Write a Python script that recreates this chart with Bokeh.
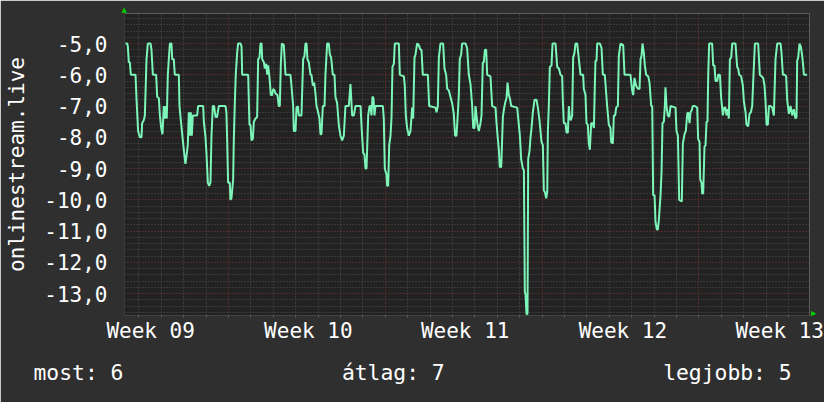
from bokeh.plotting import figure
from bokeh.models import (Range1d, FixedTicker, Grid, CustomJSTickFormatter, Title)
from bokeh.embed import file_html
from bokeh.resources import INLINE

# ---- data (time in hours from graph start, latency value) ----
t_hours = [
    1.1, 2.9, 3.6, 4.6, 5.7, 6.8, 11.8, 12.9, 14.6, 16.4,
    18.2, 18.9, 20.7, 21.8, 23.6, 25.0, 27.9, 28.9, 30.4, 33.9,
    35.0, 36.8, 37.9, 39.3, 40.7, 42.1, 43.2, 44.3, 45.3, 46.4,
    48.6, 50.3, 51.1, 52.8, 53.9, 58.2, 58.9, 60.0, 61.0, 62.5,
    64.3, 65.3, 66.4, 67.8, 68.9, 70.0, 71.0, 72.1, 73.2, 77.8,
    78.9, 84.3, 85.0, 86.8, 87.8, 89.3, 90.7, 92.1, 93.2, 94.6,
    96.0, 97.5, 99.2, 101.0, 108.2, 109.2, 110.0, 111.0, 112.8, 113.5,
    114.6, 116.4, 117.1, 118.2, 119.2, 120.7, 121.7, 124.3, 125.4, 126.1,
    132.5, 133.2, 133.9, 135.0, 136.1, 137.5, 138.6, 140.4, 142.1, 143.2,
    144.6, 145.7, 146.8, 147.5, 149.3, 150.4, 151.8, 152.9, 153.9, 155.4,
    156.8, 158.2, 159.3, 160.7, 161.8, 163.9, 165.3, 166.4, 167.5, 168.6,
    170.7, 172.5, 177.8, 178.9, 180.7, 181.4, 183.2, 184.3, 185.7, 186.8,
    189.6, 191.4, 192.8, 193.9, 195.0, 196.0, 197.5, 199.3, 200.3, 201.8,
    203.2, 204.6, 205.7, 207.1, 208.9, 210.0, 211.0, 212.5, 214.3, 215.3,
    217.1, 218.9, 220.0, 221.4, 223.2, 225.0, 226.0, 227.8, 229.6, 231.4,
    233.2, 235.0, 236.7, 240.3, 242.1, 243.9, 245.7, 247.5, 252.9, 253.9,
    255.7, 257.1, 258.2, 259.3, 260.0, 261.1, 262.5, 263.6, 264.6, 265.7,
    266.8, 267.8, 268.9, 276.8, 277.8, 278.9, 280.7, 281.4, 282.5, 283.6,
    285.0, 286.1, 287.1, 288.6, 289.6, 293.9, 295.0, 299.3, 300.3, 301.4,
    302.8, 304.6, 306.4, 308.2, 309.3, 310.7, 311.8, 313.5, 315.3, 317.1,
    318.2, 319.6, 325.0, 326.4, 333.2, 334.3, 335.7, 336.8, 338.5, 341.4,
    342.8, 344.6, 345.7, 347.5, 349.2, 351.0, 352.8, 354.2, 355.7, 357.1,
    358.2, 359.2, 360.7, 361.7, 365.4, 367.1, 368.9, 370.7, 372.5, 373.6,
    375.0, 376.1, 377.1, 378.2, 379.6, 381.4, 382.5, 383.9, 385.0, 386.1,
    387.5, 388.6, 392.1, 393.9, 397.5, 398.6, 400.0, 401.1, 402.1, 403.6,
    405.4, 406.8, 408.2, 409.3, 410.4, 411.8, 412.9, 414.3, 420.7, 422.5,
    423.6, 425.0, 426.8, 427.9, 428.9, 429.6, 430.7, 431.8, 432.5, 433.9,
    435.0, 436.1, 437.5, 439.3, 441.4, 442.9, 444.6, 445.7, 446.8, 448.2,
    449.3, 450.4, 451.8, 452.9, 453.6, 454.6, 455.7, 457.5, 458.6, 461.8,
    463.6, 465.4, 467.1, 468.9, 469.6, 470.7, 472.5, 473.6, 475.0, 476.1,
    477.1, 478.2, 479.6, 480.7, 482.1, 483.2, 485.0, 486.8, 488.6, 491.4,
    492.1, 493.9, 495.0, 496.4, 497.5, 498.6, 500.0, 501.8, 502.9, 503.9,
    504.6, 505.7, 506.4, 509.3, 511.1, 512.5, 514.6, 516.1, 517.1, 518.9,
    520.7, 521.4, 523.2, 524.3, 525.7, 526.8, 528.6, 529.6, 531.4, 534.3,
    535.7, 542.1, 543.9, 545.0, 546.4, 548.2, 550.0, 551.8, 552.9, 553.9,
    555.0, 556.4, 557.5, 558.9, 561.1, 562.5, 564.3, 565.4, 566.4, 567.9,
    568.9, 570.4, 571.4, 572.5, 574.3, 575.4, 576.4, 577.9, 578.9, 579.6,
    580.7, 582.1, 583.6, 585.0, 590.4, 591.4, 592.9, 594.3, 597.1, 598.2,
    600.0, 601.4, 602.9, 603.9, 605.4, 606.4, 607.5, 608.9, 611.1, 613.6,
    614.6, 616.1, 616.8, 618.2, 618.9, 620.0, 621.4, 622.5, 623.6, 624.6,
    625.4, 626.4, 629.6, 630.7, 632.1, 633.2, 635.0, 636.1, 637.9, 639.3,
    641.1, 642.5, 643.9, 645.0, 646.1, 647.5, 648.6, 650.0, 651.1, 654.6,
    656.4, 657.5, 658.6, 660.7, 662.5, 663.6, 665.4, 666.4, 668.2, 669.6,
    671.1, 672.5, 673.9, 675.4, 678.9, 680.7, 682.5, 684.3, 685.7, 686.8,
    687.9, 689.3, 690.4, 692.1, 693.9, 695.7, 697.5, 699.3, 702.9, 703.9,
    705.4, 707.5, 708.9, 710.0, 711.8, 713.6, 715.4, 717.1, 718.9, 720.0,
    720.7, 721.8, 723.2, 724.6, 726.1, 727.1, 727.9, 731.4,
]
values = [
    -5.0, -5.0, -5.1, -5.6, -5.6, -6.0, -6.0, -6.8, -7.8, -8.0,
    -8.0, -7.55, -7.45, -7.3, -5.5, -5.0, -5.0, -5.2, -6.0, -6.0,
    -6.7, -6.75, -7.3, -7.7, -7.9, -7.0, -7.4, -7.0, -7.4, -6.0,
    -5.0, -5.0, -5.5, -5.5, -6.0, -6.0, -7.0, -7.35, -7.65, -8.1,
    -8.6, -8.85, -8.6, -8.25, -7.2, -7.95, -7.2, -7.95, -7.3, -7.3,
    -7.0, -7.0, -7.5, -8.0, -8.5, -9.45, -9.55, -9.45, -7.95, -7.0,
    -7.0, -7.35, -7.35, -7.0, -7.0, -7.2, -8.1, -9.45, -9.45, -10.0,
    -9.95, -9.35, -8.1, -6.9, -6.0, -5.3, -5.0, -5.0, -5.1, -6.0,
    -6.0, -6.85, -7.6, -7.6, -8.1, -8.05, -7.5, -7.4, -7.35, -5.5,
    -5.45, -5.0, -5.0, -5.5, -5.6, -5.8, -5.65, -6.0, -5.7, -6.1,
    -6.65, -6.65, -6.45, -6.5, -6.6, -6.65, -7.0, -7.0, -5.65, -5.0,
    -5.05, -6.0, -6.0, -6.35, -7.0, -7.8, -7.8, -7.05, -7.0, -7.3,
    -7.3, -5.5, -5.4, -5.0, -5.0, -5.5, -5.6, -6.0, -6.0, -6.35,
    -6.25, -6.6, -7.0, -7.15, -7.4, -7.9, -7.9, -7.0, -7.0, -6.0,
    -5.0, -5.0, -5.35, -5.45, -6.0, -6.0, -6.7, -6.9, -7.6, -7.95,
    -8.1, -7.95, -7.0, -7.0, -6.3, -7.3, -7.3, -7.0, -7.0, -7.6,
    -8.5, -8.55, -9.0, -9.0, -8.35, -7.3, -7.0, -7.0, -7.3, -6.7,
    -6.75, -7.3, -7.0, -7.0, -7.4, -9.0, -9.2, -9.55, -9.55, -8.25,
    -7.95, -7.35, -5.75, -5.65, -5.0, -5.0, -6.0, -6.05, -6.35, -7.3,
    -7.7, -7.95, -7.8, -7.05, -7.4, -5.45, -5.35, -5.0, -5.05, -5.2,
    -5.2, -6.0, -6.0, -7.0, -7.05, -7.2, -7.0, -5.45, -5.0, -5.0,
    -5.8, -6.0, -6.45, -6.5, -6.7, -6.9, -7.25, -7.95, -7.95, -7.25,
    -6.65, -5.5, -5.35, -5.0, -5.0, -5.15, -6.0, -6.3, -7.0, -7.7,
    -7.7, -7.0, -7.3, -7.6, -7.8, -7.55, -7.3, -5.6, -5.6, -5.2,
    -5.2, -6.0, -6.05, -7.0, -7.05, -7.55, -8.05, -8.4, -8.95, -8.95,
    -7.35, -7.05, -6.85, -6.75, -6.25, -6.65, -6.75, -7.0, -7.05, -7.6,
    -7.95, -8.7, -9.0, -9.05, -12.95, -13.0, -13.65, -13.65, -8.7, -8.45,
    -8.0, -7.7, -7.2, -6.8, -6.8, -7.05, -7.45, -7.8, -8.15, -8.25,
    -9.7, -9.75, -9.95, -9.75, -7.8, -7.0, -5.75, -5.7, -5.0, -5.0,
    -5.75, -5.8, -6.0, -6.05, -6.8, -7.55, -7.55, -7.85, -7.85, -7.0,
    -7.4, -7.45, -7.3, -5.45, -5.3, -5.0, -5.0, -5.5, -6.0, -6.0,
    -6.45, -6.65, -7.55, -7.6, -8.2, -8.4, -7.55, -7.55, -7.7, -6.35,
    -5.55, -5.55, -5.0, -5.0, -5.15, -6.0, -6.0, -6.6, -7.0, -7.6,
    -7.7, -8.15, -8.2, -7.3, -7.3, -7.05, -7.0, -5.4, -5.0, -5.05,
    -6.0, -6.0, -6.5, -6.65, -6.1, -6.35, -6.45, -6.45, -5.5, -5.4,
    -5.0, -5.3, -5.7, -6.0, -6.05, -6.25, -7.0, -7.0, -9.85, -9.85,
    -10.7, -10.95, -10.95, -10.65, -9.85, -9.1, -7.55, -7.5, -7.0, -6.4,
    -7.0, -7.3, -7.35, -7.0, -7.05, -7.8, -7.95, -10.0, -10.05, -8.2,
    -7.9, -7.8, -7.25, -7.2, -7.55, -7.2, -7.15, -7.0, -7.0, -7.05,
    -8.05, -8.15, -9.35, -9.45, -9.8, -9.8, -8.3, -8.25, -7.5, -7.5,
    -6.0, -5.0, -5.0, -5.7, -5.7, -6.2, -6.2, -6.0, -6.0, -6.75,
    -7.3, -7.05, -7.05, -7.3, -7.1, -7.4, -5.5, -5.45, -5.0, -5.0,
    -5.75, -5.8, -6.0, -6.05, -6.35, -6.85, -7.2, -7.6, -7.65, -7.25,
    -7.2, -7.0, -6.0, -5.0, -5.0, -6.0, -6.05, -6.1, -6.35, -6.85,
    -7.6, -7.6, -7.0, -7.0, -7.05, -7.3, -5.5, -5.0, -5.0, -5.3,
    -6.0, -6.0, -6.05, -6.8, -7.25, -7.0, -7.3, -7.1, -7.4, -7.35,
    -5.55, -5.45, -5.0, -5.1, -5.4, -5.7, -6.0, -6.0,
]

week_tick_hours = [28, 197, 365, 534, 702]
week_labels = ["Week 09", "Week 10", "Week 11", "Week 12", "Week 13"]
y_tick_values = [-13, -12, -11, -10, -9, -8, -7, -6, -5]
y_axis_title = "onlinestream.live"
legend_texts = ["most: 6", "átlag: 7", "legjobb: 5"]

# ---- styling / layout ----
BG = "#2f2f2f"
CANVAS = "#222222"
LINE = "#7cf5b9"
TEXT = "#ffffff"
ARROW = "#00cc00"
MONO = "DejaVu Sans Mono"
FS = "21px"

X_END = 733.9
Y_MIN, Y_MAX = -13.70, -4.04

p = figure(width=824, height=402, output_backend="svg", toolbar_location=None,
           x_range=Range1d(0, X_END), y_range=Range1d(Y_MIN, Y_MAX),
           min_border_left=124, min_border_right=15, min_border_top=13,
           min_border_bottom=87)
p.background_fill_color = CANVAS
p.border_fill_color = BG
p.outline_line_color = None
p.xgrid.visible = False
p.ygrid.visible = False

# grid positions (daily lines, weekly major lines, 0.2 minor horizontal)
day_lines = [15.5 + 24.0 * k for k in range(30)]
week_lines = [day_lines[k] for k in (4, 11, 18, 25)]
minor_days = [d for i, d in enumerate(day_lines) if i not in (4, 11, 18, 25)]
minor_y = [round(-13.6 + 0.2 * i, 2) for i in range(48)]
minor_y = [v for v in minor_y if abs(v - round(v)) > 1e-6]

GRID_MINOR = "#505050"
GRID_MAJOR = "#7a3232"
p.add_layout(Grid(dimension=1, ticker=FixedTicker(ticks=minor_y),
                  grid_line_color=GRID_MINOR, grid_line_dash="1 2", grid_line_width=1))
p.add_layout(Grid(dimension=0, ticker=FixedTicker(ticks=minor_days),
                  grid_line_color=GRID_MINOR, grid_line_dash="1 2", grid_line_width=1))
p.add_layout(Grid(dimension=1, ticker=FixedTicker(ticks=y_tick_values),
                  grid_line_color=GRID_MAJOR, grid_line_dash="1 2", grid_line_width=1))
p.add_layout(Grid(dimension=0, ticker=FixedTicker(ticks=week_lines),
                  grid_line_color=GRID_MAJOR, grid_line_dash="1 2", grid_line_width=1))

p.line(t_hours, values, line_color=LINE, line_width=2)

# y axis
ya = p.yaxis[0]
ya.ticker = FixedTicker(ticks=y_tick_values, minor_ticks=[])
ya.formatter = CustomJSTickFormatter(code="return tick.toFixed(1).replace('.', ',');")
ya.major_label_text_font = MONO
ya.major_label_text_font_size = FS
ya.major_label_text_color = TEXT
ya.major_tick_line_color = None
ya.minor_tick_line_color = None
ya.major_tick_out = 0
ya.major_tick_in = 0
ya.minor_tick_out = 0
ya.minor_tick_in = 0
ya.axis_line_color = "#3a3a3a"
ya.major_label_standoff = 17
ya.axis_label = y_axis_title
ya.axis_label_text_font = MONO
ya.axis_label_text_font_size = FS
ya.axis_label_text_font_style = "normal"
ya.axis_label_text_color = TEXT
ya.axis_label_standoff = 12

# x axis
xa = p.xaxis[0]
xa.ticker = FixedTicker(ticks=week_tick_hours, minor_ticks=day_lines)
xa.major_label_overrides = {t: lab for t, lab in zip(week_tick_hours, week_labels)}
xa.major_label_text_font = MONO
xa.major_label_text_font_size = FS
xa.major_label_text_color = TEXT
xa.major_tick_line_color = None
xa.major_tick_out = 0
xa.major_tick_in = 0
xa.minor_tick_line_color = "#606060"
xa.minor_tick_in = 0
xa.minor_tick_out = 2
xa.axis_line_color = "#444444"
xa.major_label_standoff = 1

# bottom summary line (rrdtool GPRINT style), monospace columns
NB = "\u00a0"
summary = (legend_texts[0] + NB * (24 - len(legend_texts[0]))
           + legend_texts[1] + NB * (49 - 24 - len(legend_texts[1]))
           + legend_texts[2])
p.add_layout(Title(text=summary, align="left", offset=-91, standoff=25,
                   text_font=MONO, text_font_size="21.35px", text_color=TEXT,
                   text_font_style="normal"), "below")

# rrdtool-style axis arrow heads
p.add_layout(Title(text="\u25b2", align="left", offset=-3, standoff=0,
                   text_font="DejaVu Sans", text_font_size="7px", text_color=ARROW,
                   text_font_style="normal"), "above")
p.add_layout(Title(text="\u25b2", align="right", offset=-1, standoff=0,
                   text_font="DejaVu Sans", text_font_size="7px", text_color=ARROW,
                   text_font_style="normal"), "right")

open("out.html", "w").write(file_html(p, INLINE))
